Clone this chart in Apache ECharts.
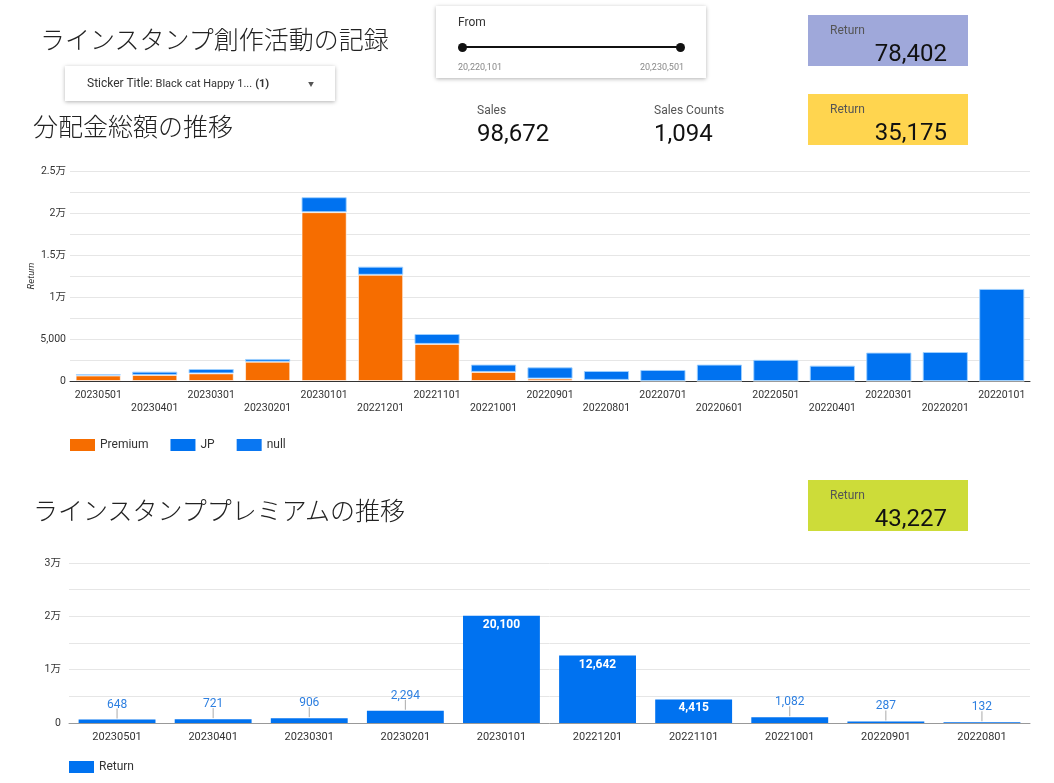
<!DOCTYPE html>
<html>
<head>
<meta charset="utf-8">
<title>ラインスタンプ創作活動の記録</title>
<script src="https://cdn.jsdelivr.net/npm/echarts@6/dist/echarts.min.js"></script>
<style>
  html, body { margin: 0; padding: 0; background: #fff; }
  body { width: 1054px; height: 783px; position: relative; overflow: hidden; font-family: Roboto, "Noto Sans CJK JP", sans-serif; color: #222; }
  #chart { position: absolute; left: 0; top: 0; width: 1054px; height: 783px; }
  .abs { position: absolute; white-space: nowrap; }
  .jp { font-family: "Noto Sans CJK JP", sans-serif; font-size: 25px; font-weight: 300; color: #222; line-height: 1; }
  .box { background: #fff; box-shadow: 0 1px 4px rgba(0,0,0,0.3); }
  .card { width: 160px; height: 51px; }
  .card .lbl { position: absolute; left: 22px; top: 8px; font-size: 12px; color: #555; }
  .card .val { position: absolute; right: 21px; top: 24px; font-size: 24px; color: #111; }
  .kpi .lbl { font-size: 12px; color: #555; }
  .kpi .val { font-size: 24px; color: #111; margin-top: 2px; }
</style>
</head>
<body>
<div id="chart"></div>

<div class="abs jp" style="left:40px; top:26px;">ラインスタンプ創作活動の記録</div>
<div class="abs jp" style="left:33px; top:113px;">分配金総額の推移</div>
<div class="abs jp" style="left:33px; top:497px;">ラインスタンププレミアムの推移</div>

<div class="abs box" style="left:65px; top:66px; width:270px; height:35px;">
  <div class="abs" style="left:22px; top:10px; font-size:12px; color:#333;">Sticker Title: <span style="font-size:11px;">Black cat Happy 1...</span> <b style="font-size:11px;">(1)</b></div>
  <div class="abs" style="left:243px; top:13px; font-size:6px; color:#555;">&#9660;</div>
</div>

<div class="abs box" style="left:436px; top:6px; width:270px; height:72px;">
  <div class="abs" style="left:22px; top:9px; font-size:12px; color:#333;">From</div>
  <div class="abs" style="left:26px; top:40px; width:218px; height:2px; background:#111;"></div>
  <div class="abs" style="left:22px; top:37px; width:9px; height:9px; border-radius:50%; background:#111;"></div>
  <div class="abs" style="left:240px; top:37px; width:9px; height:9px; border-radius:50%; background:#111;"></div>
  <div class="abs" style="left:22px; top:56px; font-size:9px; color:#888;">20,220,101</div>
  <div class="abs" style="right:22px; top:56px; font-size:9px; color:#888;">20,230,501</div>
</div>

<div class="abs card" style="left:808px; top:15px; background:#9fa8da;">
  <div class="lbl">Return</div><div class="val">78,402</div>
</div>
<div class="abs card" style="left:808px; top:94px; background:#ffd54f;">
  <div class="lbl">Return</div><div class="val">35,175</div>
</div>
<div class="abs card" style="left:808px; top:480px; background:#cddc39;">
  <div class="lbl">Return</div><div class="val">43,227</div>
</div>

<div class="abs kpi" style="left:477px; top:103px;">
  <div class="lbl">Sales</div><div class="val">98,672</div>
</div>
<div class="abs kpi" style="left:654px; top:103px;">
  <div class="lbl">Sales Counts</div><div class="val">1,094</div>
</div>

<script>
// 月 (新しい順)
const months = ['20230501', '20230401', '20230301', '20230201', '20230101', '20221201',
  '20221101', '20221001', '20220901', '20220801', '20220701', '20220601',
  '20220501', '20220401', '20220301', '20220201', '20220101'];
// 分配金 内訳
const premium = [648, 721, 906, 2294, 20100, 12642, 4415, 1082, 287, 132, 0, 0, 0, 0, 0, 0, 0];
const jp = [150, 390, 520, 330, 1780, 970, 1180, 870, 1340, 1060, 1310, 1950, 2520, 1830, 3380, 3450, 10960];
const nullReturn = [0, 0, 0, 0, 0, 0, 0, 0, 0, 0, 0, 0, 0, 0, 0, 0, 0];

// プレミアム
const premiumMonths = ['20230501', '20230401', '20230301', '20230201', '20230101',
  '20221201', '20221101', '20221001', '20220901', '20220801'];
const premiumReturn = [648, 721, 906, 2294, 20100, 12642, 4415, 1082, 287, 132];

const BLUE = '#0072f0';
const ORANGE = '#f66d00';

function manFmt(v) {
  if (v === 0) return '0';
  if (v < 10000) return echarts.format.addCommas(v);
  return (v / 10000) + '万';
}

const chart = echarts.init(document.getElementById('chart'));

const commaLabel = function (p) { return echarts.format.addCommas(p.value); };

const barLabel = premiumReturn.map(function (v) {
  const inside = v > 4000;
  return {
    value: v,
    label: inside
      ? { show: true, position: 'insideTop', distance: 3, color: '#fff', fontWeight: 'bold', fontSize: 12, formatter: commaLabel }
      : { show: true, position: 'top', distance: 9, color: '#2d7fe0', fontSize: 12, formatter: commaLabel }
  };
});

const option = {
  animation: false,
  textStyle: { fontFamily: 'Roboto, "Noto Sans CJK JP", sans-serif' },
  grid: [
    { left: 70, right: 24, top: 171, height: 210 },
    { left: 69, right: 24, top: 563, height: 160 }
  ],
  legend: [
    {
      data: ['Premium', 'JP', 'null'],
      left: 65, top: 434,
      itemWidth: 25, itemHeight: 12, itemGap: 22,
      icon: 'rect',
      itemStyle: { borderWidth: 0 },
      textStyle: { fontSize: 12, color: '#333' }
    },
    {
      data: ['Return'],
      left: 64, top: 756,
      itemWidth: 25, itemHeight: 12,
      icon: 'rect',
      itemStyle: { borderWidth: 0 },
      textStyle: { fontSize: 12, color: '#333' }
    }
  ],
  xAxis: [
    {
      type: 'category', gridIndex: 0, data: months,
      axisLine: { lineStyle: { color: '#333' } },
      axisTick: { show: false },
      axisLabel: {
        interval: 0, fontSize: 10.5, color: '#333', margin: 8, lineHeight: 13,
        formatter: function (v, i) { return i % 2 ? '\n' + v : v; }
      }
    },
    {
      type: 'category', gridIndex: 1, data: premiumMonths,
      axisLine: { lineStyle: { color: '#999' } },
      axisTick: { show: false },
      axisLabel: { interval: 0, fontSize: 11, color: '#333', margin: 9 }
    }
  ],
  yAxis: [
    {
      type: 'value', gridIndex: 0, min: 0, max: 25000, interval: 2500,
      name: 'Return', nameLocation: 'middle', nameGap: 34, nameMoveOverlap: false,
      nameTextStyle: { fontSize: 9.5, fontStyle: 'italic', color: '#333' },
      axisLabel: {
        fontSize: 10.5, color: '#333', margin: 4,
        formatter: function (v) { return v % 5000 === 0 ? manFmt(v) : ''; }
      },
      splitLine: { lineStyle: { color: '#e6e6e6' } }
    },
    {
      type: 'value', gridIndex: 1, min: 0, max: 30000, interval: 5000,
      axisLabel: {
        fontSize: 10.5, color: '#333', margin: 8,
        formatter: function (v) { return v % 10000 === 0 ? manFmt(v) : ''; }
      },
      splitLine: { lineStyle: { color: '#e6e6e6' } }
    }
  ],
  series: [
    {
      name: 'Premium', type: 'bar', stack: 'total', xAxisIndex: 0, yAxisIndex: 0,
      data: premium, barCategoryGap: '20%',
      itemStyle: { color: ORANGE, borderColor: 'rgba(255,255,255,0.6)', borderWidth: 1 }
    },
    {
      name: 'JP', type: 'bar', stack: 'total', xAxisIndex: 0, yAxisIndex: 0,
      data: jp,
      itemStyle: { color: BLUE, borderColor: 'rgba(160,210,255,0.9)', borderWidth: 1 }
    },
    {
      name: 'null', type: 'bar', stack: 'total', xAxisIndex: 0, yAxisIndex: 0,
      data: nullReturn,
      itemStyle: { color: '#0a77f2' }
    },
    {
      name: 'Return', type: 'bar', xAxisIndex: 1, yAxisIndex: 1,
      data: barLabel, barCategoryGap: '20%',
      itemStyle: { color: BLUE }
    },
    {
      // 値ラベルへの引き出し線
      type: 'custom', xAxisIndex: 1, yAxisIndex: 1, silent: true,
      data: premiumReturn.map(function (v, i) { return [i, v]; }),
      renderItem: function (params, api) {
        if (api.value(1) > 4000) return null;
        const p = api.coord([api.value(0), api.value(1)]);
        return {
          type: 'line',
          shape: { x1: p[0], y1: p[1] - 1, x2: p[0], y2: p[1] - 11 },
          style: { stroke: '#aaa', lineWidth: 1 }
        };
      },
      z: 3
    }
  ]
};

chart.setOption(option);
</script>
</body>
</html>
